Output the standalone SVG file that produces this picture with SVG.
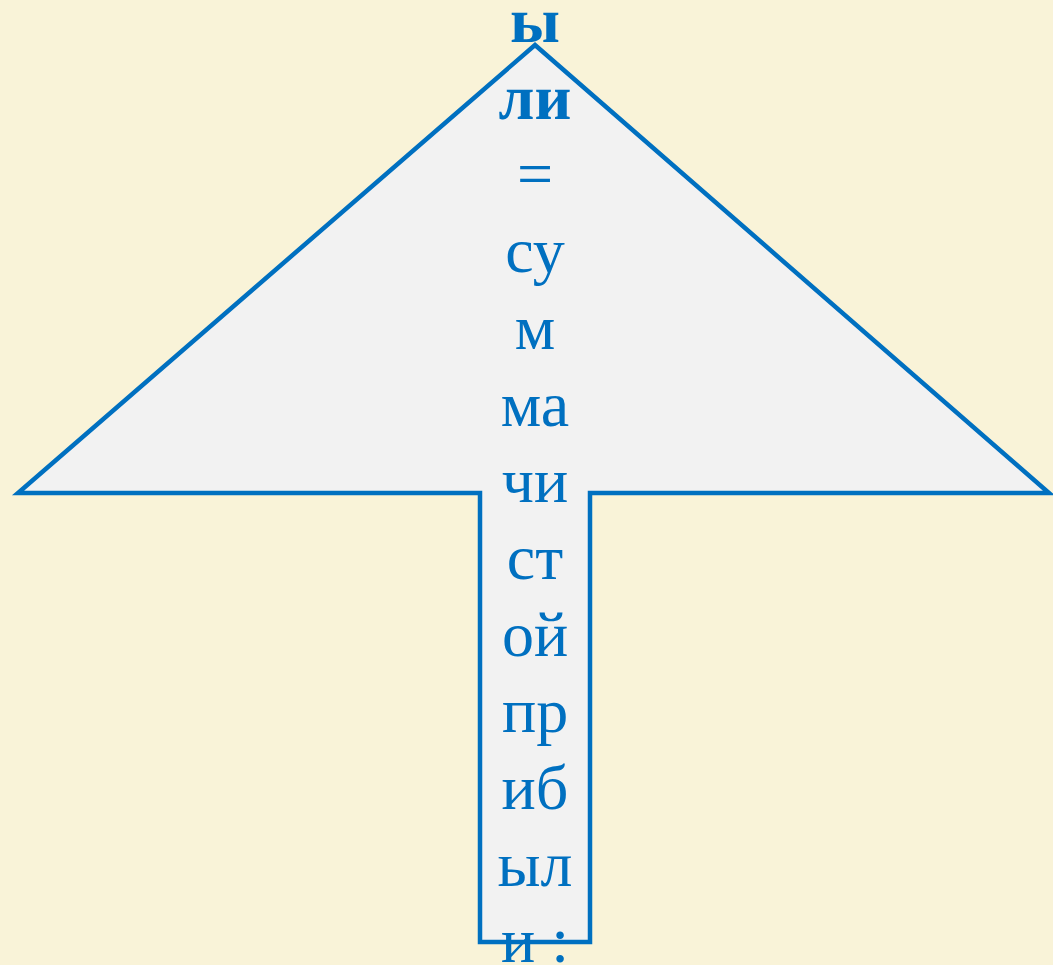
<svg xmlns="http://www.w3.org/2000/svg" width="1053" height="965" viewBox="0 0 1053 965">
  <style>
    .bg { fill: #F9F3D8; }
    .arrow { fill: #F2F2F2; stroke: #0070C0; stroke-width: 4.5; stroke-linejoin: miter; }
    .t { font-family: "Liberation Serif", "Times New Roman", serif; font-size: 64px; fill: #0070C0; text-anchor: middle; }
    .b { font-weight: bold; }
  </style>
  <rect class="bg" x="0" y="0" width="1053" height="965"/>
  <!-- upward block arrow -->
  <g id="up-arrow">
    <path class="arrow" d="M535 45 L1049 493 L590 493 L590 942 L480 942 L480 493 L18 493 Z"/>
  </g>
  <!-- label text, broken into short stacked lines -->
  <g id="label">
    <text class="t b" x="535" y="42">ы</text>
    <text class="t b" x="535" y="118.7">ли</text>
    <text class="t" x="535" y="195.4">=</text>
    <text class="t" x="535" y="272">су</text>
    <text class="t" x="535" y="348.8">м</text>
    <text class="t" x="535" y="425.5">ма</text>
    <text class="t" x="535" y="502">чи</text>
    <text class="t" x="535" y="579">ст</text>
    <text class="t" x="535" y="655.6">ой</text>
    <text class="t" x="535" y="732">пр</text>
    <text class="t" x="535" y="809">иб</text>
    <text class="t" x="535" y="885.7">ыл</text>
    <text class="t" x="535" y="962">и :</text>
  </g>
</svg>
